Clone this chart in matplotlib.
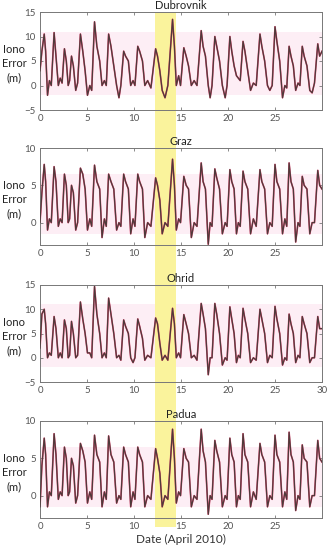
import matplotlib
matplotlib.use("Agg")
import matplotlib.pyplot as plt
from matplotlib.patches import Rectangle
from matplotlib.transforms import blended_transform_factory

plt.rcParams['font.family'] = ['Lato', 'DejaVu Sans']

# vertex times (days of April 2010), shared by all stations
t_days = [
    0.0, 0.2,
    0.45, 0.6, 0.8, 1.0, 1.2,
    1.5, 1.7, 1.95, 2.15, 2.35,
    2.6, 2.8, 3.0, 3.15,
    3.35, 3.55, 3.8, 4.0,
    4.3, 4.55, 4.8, 5.05, 5.3, 5.5,
    5.8, 6.05, 6.35, 6.6, 6.85, 7.05,
    7.3, 7.55, 7.85, 8.15, 8.4, 8.6,
    8.9, 9.1, 9.4, 9.65, 9.9, 10.1,
    10.4, 10.6, 10.9, 11.15, 11.45, 11.8,
    12.3, 12.5, 12.75, 13.0, 13.3, 13.6,
    14.1, 14.3, 14.5, 14.75, 14.95,
    15.3, 15.55, 15.8, 16.1, 16.4, 16.7,
    17.15, 17.35, 17.6, 17.9, 18.1, 18.3,
    18.6, 18.8, 19.1, 19.4, 19.7, 19.9,
    20.2, 20.4, 20.65, 20.9, 21.1, 21.3,
    21.6, 21.8, 22.1, 22.4, 22.7, 23.0,
    23.4, 23.6, 23.9, 24.2, 24.45, 24.7,
    25.0, 25.2, 25.5, 25.8, 26.05, 26.25,
    26.5, 26.7, 26.95, 27.2, 27.45, 27.65,
    27.9, 28.1, 28.4, 28.7, 28.95, 29.2,
    29.55, 29.75, 30.0,
]

dubrovnik = [
    3, 7,
    10.5, 7, -2, 1, 0,
    10.8, 6, 0, 1.5, 0.5,
    7.5, 5, 0, 1,
    6, 4, -1, 0.5,
    10.5, 7, 3, -2, 0, -1,
    13, 8, 5, 0, 1, 0,
    10.5, 8, 4, 0, -2.5, 0,
    7, 6, 5, 0, 1, 0,
    8, 7, 5, 0, 1, -0.5,
    7.5, 6, 3, -1, -2.5, 0,
    13.5, 8, 0, 2, 0,
    7.7, 6, 4, 0, 1, 0,
    11.2, 8, 6, 0, -2.5, 0,
    10, 8, 5, 0, -2.5, 0,
    10, 7, 4, 2, 1.5, 1,
    9, 7, 3, -1, 0.5, 0,
    10.5, 8, 5, 0, -1, 0,
    12, 9, 5, -2.5, 0, -0.5,
    8, 6, 4, -1, 0.5, 0,
    8, 6, 4, -1, -1.5, 0.5,
    8.5, 6, 7,
]

graz = [
    0, 4,
    7.8, 5.5, -1, 0.5, 0,
    7.5, 5.5, -0.5, 0.5, 0,
    6.5, 5, 0, 0.5,
    5, 4, -1, 0,
    7.3, 6.5, 4.5, -1, 0.5, -0.5,
    7.7, 5.5, 4.5, -2, 0.5, -0.5,
    6.5, 5.5, 4.5, -1, 0, -0.5,
    6.5, 5.5, 4.5, -1.5, 0.5, -0.5,
    6.5, 5.5, 4.5, -2, 0, -0.5,
    6, 5, 3, -1.5, 0, -0.5,
    8.5, 5, -1, 0.5, 0,
    6.2, 5, 4.5, -2, 0, -0.5,
    8.0, 5.5, 4.5, -2.9, 0, -0.5,
    7.2, 6, 4.5, -1.5, 0, -0.5,
    7.1, 5.5, 4.5, -1.5, 0, -0.5,
    6.9, 5.5, 4.5, -1.5, 0.5, -0.5,
    7.1, 5.5, 4.5, -1.5, 0, -0.5,
    7.8, 5.5, 4.5, -1.5, 0.5, -0.5,
    8.0, 5.5, 4.5, -2.6, 0, -0.5,
    6.2, 5, 4.5, -1.5, 0, 0,
    7.0, 5, 4.5,
]

ohrid = [
    2, 9,
    10, 7, 0, 1, 0.5,
    8.5, 6, 0, 1, 0,
    7.8, 6, 0, 0.5,
    7.5, 5, 0, 0.5,
    11.5, 8, 5, 1, 1, 0,
    14.7, 9, 5, 0, 1, 0,
    12.3, 9, 5, 0, 0.5, -0.5,
    7.8, 6.5, 5, 0, -1, 0,
    8, 6.5, 4, -0.5, 0.5, 0,
    8.2, 7, 3, -0.5, 0.5, -0.5,
    10.2, 7, 0, 1, 0,
    8.9, 7, 5, 0, 0.5, -0.5,
    11.2, 9, 6, -3.5, 0, 0,
    11.2, 9, 5, -1.5, 0, -0.5,
    10.5, 8, 5, -1, 0.5, 0,
    10.2, 8, 5, -1, 0, -0.5,
    10, 8, 5, -1, 0.5, 0,
    10.6, 8, 5, -1.5, 0, -0.5,
    9, 7, 5, -1, 0.5, 0,
    8.5, 7, 5, -1, 0, 0,
    8.5, 6, 6,
]

padua = [
    -1.5, 4,
    7.7, 5.5, -1.5, 0.5, 0,
    8.3, 5.5, -0.5, 0.5, 0,
    6.5, 5, 0, 0.5,
    5, 4, -1, 0,
    7, 6, 4.5, -1, 0.5, -0.5,
    8.1, 5.5, 4.5, -1.5, 0.5, -0.5,
    8, 5.5, 4.5, -1, 0, -0.5,
    6.5, 5.5, 4.5, -1.5, 0.5, -0.5,
    6.5, 5.5, 4.5, -1.5, 0, -0.5,
    6.3, 5, 3, -1.5, 0, -0.5,
    8.9, 5, -1, 0.5, 0,
    6.3, 5, 4.5, -1.5, 0, -0.5,
    8.9, 6, 4.5, -2.5, 0, -0.5,
    7.4, 6, 4.5, -1.5, 0, -0.5,
    7.7, 5.5, 4.5, -1.5, 0, -0.5,
    8.3, 5.5, 4.5, -1.5, 0.5, -0.5,
    7, 5.5, 4.5, -1.5, 0, -0.5,
    8.1, 5.5, 4.5, -1.5, 0.5, -0.5,
    8.5, 5.5, 4.5, -2, 0, -0.5,
    6.8, 5, 4.5, -1.5, 0, 0,
    7.4, 5, 4.5,
]

stations = ["Dubrovnik", "Graz", "Ohrid", "Padua"]
series = [dubrovnik, graz, ohrid, padua]
ylims = [(-5, 15), (-3, 10), (-5, 15), (-3, 10)]
yticks = [[-5, 0, 5, 10, 15], [0, 5, 10], [-5, 0, 5, 10, 15], [0, 5, 10]]
xticks = [[0, 5, 10, 15, 20, 25], [0, 5, 10, 15, 20, 25],
          [0, 5, 10, 15, 20, 25, 30], [0, 5, 10, 15, 20, 25]]
pink_bands = [(-2, 11), (-1.5, 6.5), (-2, 11), (-1.5, 6.5)]
storm = (12.2, 14.45)  # highlighted days

fig = plt.figure(figsize=(3.28, 5.5), dpi=100)

# axes boxes in pixels: (top, bottom)
boxes = [(12, 110), (148, 245), (285, 382), (421, 518)]
W, H = 328, 550
axes = []
for (top, bot) in boxes:
    ax = fig.add_axes([40 / W, 1 - bot / H, 282 / W, (bot - top) / H])
    axes.append(ax)

yellow = '#faf39c'
for i, ax in enumerate(axes):
    ax.axhspan(*pink_bands[i], color='#fdeef5', zorder=0.5, lw=0)
    ax.axvspan(*storm, color=yellow, zorder=1, lw=0)
    ax.plot(t_days, series[i], color='#e33060', lw=1.2, alpha=0.85, zorder=2)
    ax.plot(t_days, series[i], color='#4e3a3a', lw=0.9, zorder=3)
    ax.set_xlim(0, 30)
    ax.set_ylim(*ylims[i])
    ax.set_yticks(yticks[i])
    ax.set_xticks(xticks[i])
    ax.tick_params(direction='in', top=True, right=True, length=2.5,
                   width=0.6, labelsize=7, labelcolor='#555555',
                   color='#777777', pad=3)
    for s in ax.spines.values():
        s.set_color('#777777')
        s.set_linewidth(0.7)
    ax.set_title(stations[i], fontsize=8, pad=2.5, color='#222222')
    ax.text(-0.092, 0.47, "Iono\nError\n(m)", transform=ax.transAxes,
            ha='center', va='center', fontsize=8, linespacing=1.35,
            color='#222222')

axes[-1].set_xlabel("Date (April 2010)", fontsize=8.5, labelpad=2,
                    color='#333333')

# the highlighted days run through the gaps between the panels
tr = blended_transform_factory(axes[-1].transData, fig.transFigure)
y0 = 1 - boxes[-1][1] / H - 0.016
y1 = 1 - boxes[0][0] / H
fig.patches.append(Rectangle((storm[0], y0), storm[1] - storm[0], y1 - y0,
                             transform=tr, color=yellow, lw=0, zorder=-1))

fig.savefig("out.png", dpi=100)
